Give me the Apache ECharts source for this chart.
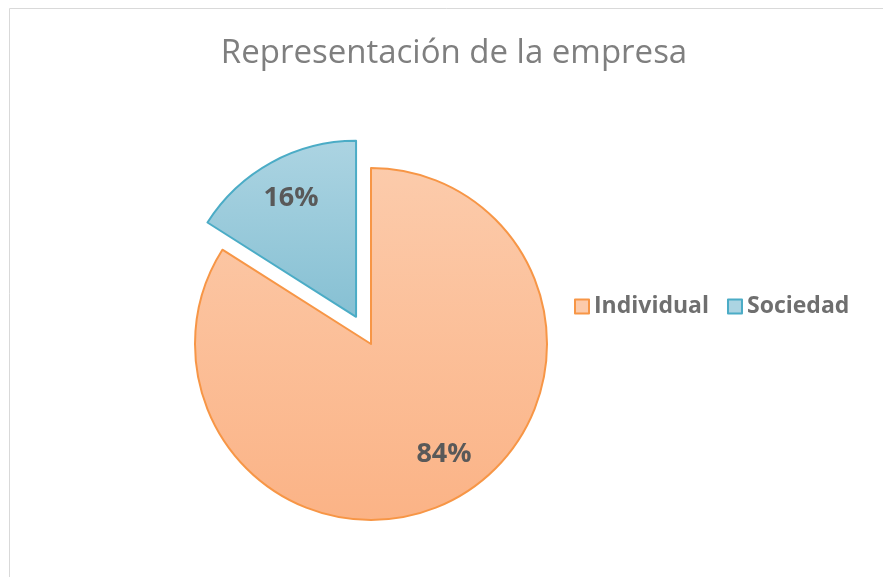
<!DOCTYPE html>
<html>
<head>
<meta charset="utf-8">
<script src="https://cdn.jsdelivr.net/npm/echarts@6/dist/echarts.min.js"></script>
<style>
  html, body { margin: 0; padding: 0; background: #fff; }
  #main { width: 883px; height: 577px; }
</style>
</head>
<body>
<div id="main"></div>
<script>
// datos del gráfico
const categorias = ['Individual', 'Sociedad']
const valores = [84, 16]
const etiquetas = ['84%', '16%']

const bordes = ['#f79646', '#4bacc6']
const rellenos = [
  ['#fccbab', '#fbb386'],
  ['#acd4e2', '#86c0d3'],
]

function degradado(c) {
  return {
    type: 'linear', x: 0, y: 0, x2: 0, y2: 1,
    colorStops: [{ offset: 0, color: c[0] }, { offset: 1, color: c[1] }],
  }
}

const datos = categorias.map((nombre, i) => ({
  name: nombre,
  value: valores[i],
  selected: nombre === 'Sociedad',
  itemStyle: { color: degradado(rellenos[i]), borderColor: bordes[i], borderWidth: 2 },
}))

// serie transparente más grande solo para colocar las etiquetas como Excel
const desplazamientos = [[8, -8], [0, 0]]
const datosEtiquetas = categorias.map((nombre, i) => ({
  name: nombre,
  value: valores[i],
  selected: nombre === 'Sociedad',
  label: { formatter: etiquetas[i], offset: desplazamientos[i] },
}))

const centro = [371, 344]
const radio = 176

let myChart = echarts.init(document.getElementById('main'))
const option = {
  animation: false,
  backgroundColor: '#fff',
  title: {
    text: 'Representación de la empresa',
    left: 449,
    top: 32,
    textAlign: 'center',
    textStyle: { fontFamily: 'Open Sans', fontSize: 33, fontWeight: 'normal', color: '#7f7f7f' },
  },
  legend: {
    left: 569,
    top: 290,
    icon: 'rect',
    itemWidth: 14,
    itemHeight: 14,
    itemGap: 18,
    textStyle: { fontFamily: 'Open Sans', fontSize: 23, fontWeight: 'bold', color: '#6f6f6f', padding: [0, 0, 0, 0] },
    data: categorias.map((nombre, i) => ({
      name: nombre,
      itemStyle: { color: rellenos[i][0], borderColor: bordes[i], borderWidth: 2 },
    })),
    selectedMode: false,
  },
  graphic: [
    {
      type: 'rect',
      shape: { x: 9.5, y: 8.5, width: 1000, height: 1000 },
      style: { fill: 'none', stroke: '#d9d9d9', lineWidth: 1 },
      silent: true,
    },
  ],
  series: [
    {
      type: 'pie',
      center: centro,
      radius: radio,
      startAngle: 90,
      clockwise: true,
      selectedMode: 'single',
      selectedOffset: 31,
      label: { show: false },
      labelLine: { show: false },
      emphasis: { disabled: true },
      data: datos,
    },
    {
      type: 'pie',
      center: centro,
      radius: radio * 1.5,
      startAngle: 90,
      clockwise: true,
      selectedMode: 'single',
      selectedOffset: 31,
      silent: true,
      z: 5,
      itemStyle: { color: 'rgba(0,0,0,0)', borderWidth: 0 },
      label: {
        show: true,
        position: 'inside',
        fontFamily: 'Open Sans',
        fontSize: 27,
        fontWeight: 'bold',
        color: '#595959',
      },
      labelLine: { show: false },
      emphasis: { disabled: true },
      data: datosEtiquetas,
    },
  ],
}
myChart.setOption(option)
</script>
</body>
</html>
